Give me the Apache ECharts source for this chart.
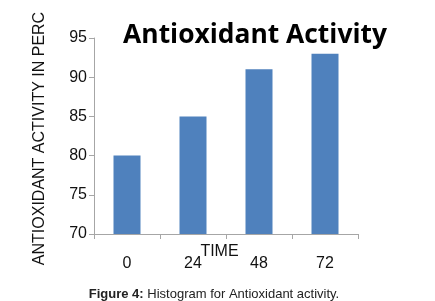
<!DOCTYPE html>
<html>
<head>
<meta charset="utf-8">
<script src="https://cdn.jsdelivr.net/npm/echarts@6/dist/echarts.min.js"></script>
<style>
html,body{margin:0;padding:0;background:#fff;}
#chart{width:435px;height:301px;}
</style>
</head>
<body>
<div id="chart"></div>
<script>
var times = ['0', '24', '48', '72'];
var activity = [80, 85, 91, 93];

var chart = echarts.init(document.getElementById('chart'));
var option = {
	animation: false,
	title: [{
		text: 'Antioxidant Activity',
		left: 250,
		top: 17,
		textAlign: 'center',
		textStyle: {
			fontFamily: 'Open Sans',
			fontWeight: 'bold',
			fontSize: 26.4,
			color: '#000'
		}
	}, {
		text: '{b|Figure 4:} Histogram for Antioxidant activity.',
		left: 209,
		top: 283,
		textAlign: 'center',
		textStyle: {
			fontFamily: 'Liberation Sans',
			fontSize: 13,
			fontWeight: 'normal',
			color: '#222',
			rich: {
				b: {fontFamily: 'Liberation Sans', fontSize: 13, fontWeight: 'bold', color: '#222'}
			}
		}
	}],
	grid: {left: 94, top: 38, right: 77, bottom: 67},
	xAxis: {
		type: 'category',
		data: times,
		name: 'TIME',
		nameLocation: 'middle',
		nameGap: 10,
		nameMoveOverlap: false,
		nameTextStyle: {
			fontFamily: 'Liberation Sans',
			fontSize: 16,
			color: '#111',
			verticalAlign: 'top',
			padding: [0, 13, 0, 0]
		},
		axisLine: {lineStyle: {color: '#a6a6a6', width: 1}},
		axisTick: {show: true, length: 5, lineStyle: {color: '#a6a6a6'}},
		axisLabel: {
			margin: 22,
			fontFamily: 'Liberation Sans',
			fontSize: 16,
			color: '#111'
		}
	},
	yAxis: {
		type: 'value',
		min: 70,
		max: 95,
		interval: 5,
		name: 'ANTIOXIDANT ACTIVITY IN PERC',
		nameLocation: 'middle',
		nameRotate: 90,
		nameGap: 46,
		nameMoveOverlap: false,
		nameTextStyle: {
			fontFamily: 'Liberation Sans',
			fontSize: 16,
			color: '#111',
			padding: [0, 5, 0, 0]
		},
		splitLine: {show: false},
		axisLine: {show: true, lineStyle: {color: '#a6a6a6', width: 1}},
		axisTick: {show: true, length: 5, lineStyle: {color: '#a6a6a6'}},
		axisLabel: {
			margin: 7,
			fontFamily: 'Liberation Sans',
			fontSize: 16,
			color: '#111'
		}
	},
	series: [{
		type: 'bar',
		data: activity,
		barWidth: 27,
		itemStyle: {color: '#4f81bd'}
	}]
};
chart.setOption(option);
</script>
</body>
</html>
